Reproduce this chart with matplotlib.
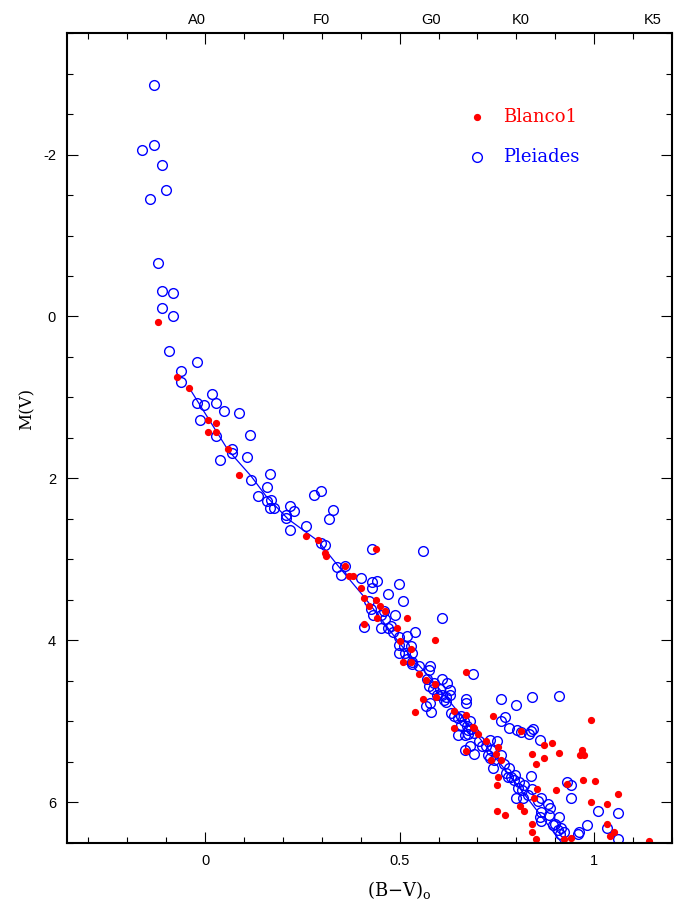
import matplotlib
matplotlib.use('Agg')
import matplotlib.pyplot as plt
from matplotlib.ticker import MultipleLocator

plt.rcParams['font.family'] = ['Liberation Sans', 'DejaVu Sans']
plt.rcParams['axes.unicode_minus'] = False
plt.rcParams['mathtext.fontset'] = 'dejavuserif'

# Pleiades: (B-V)o and M(V)
pleiades_bv = [-0.131, -0.131, -0.162, -0.111, -0.100, -0.141, -0.121, -0.111, -0.082, -0.111,
               -0.082, -0.093, -0.021, -0.062, -0.062, -0.021, -0.003, 0.018, 0.028, 0.049,
               0.087, -0.013, 0.028, 0.116, 0.069, 0.069, 0.039, 0.108, 0.118, 0.167,
               0.159, 0.136, 0.159, 0.170, 0.167, 0.177, 0.280, 0.298, 0.219, 0.229,
               0.208, 0.208, 0.219, 0.329, 0.319, 0.260, 0.298, 0.308, 0.429, 0.560,
               0.339, 0.360, 0.350, 0.401, 0.429, 0.442, 0.429, 0.499, 0.470, 0.422,
               0.509, 0.427, 0.460, 0.488, 0.432, 0.452, 0.463, 0.452, 0.609, 0.409,
               0.478, 0.470, 0.483, 0.540, 0.519, 0.499, 0.499, 0.512, 0.530, 0.499,
               0.514, 0.532, 0.519, 0.532, 0.550, 0.578, 0.532, 0.576, 0.571, 0.589,
               0.609, 0.622, 0.576, 0.586, 0.604, 0.630, 0.596, 0.609, 0.620, 0.630,
               0.614, 0.578, 0.568, 0.581, 0.620, 0.671, 0.671, 0.689, 0.761, 0.799,
               0.841, 0.910, 0.771, 0.761, 0.781, 0.802, 0.812, 0.833, 0.843, 0.861,
               0.632, 0.640, 0.650, 0.658, 0.666, 0.658, 0.674, 0.684, 0.692, 0.676,
               0.650, 0.704, 0.681, 0.668, 0.712, 0.733, 0.751, 0.722, 0.735, 0.761,
               0.728, 0.692, 0.681, 0.676, 0.668, 0.838, 0.733, 0.743, 0.740, 0.769,
               0.781, 0.774, 0.779, 0.787, 0.797, 0.794, 0.807, 0.805, 0.820, 0.838,
               0.931, 0.941, 0.941, 0.841, 0.815, 0.799, 0.817, 0.830, 0.864, 0.856,
               0.882, 0.887, 0.864, 0.861, 0.864, 0.884, 0.895, 0.900, 0.910, 0.915,
               0.907, 0.923, 0.913, 0.959, 0.961, 0.982, 1.010, 1.062, 1.033, 1.062]
pleiades_mv = [-2.86, -2.12, -2.05, -1.87, -1.56, -1.45, -0.66, -0.31, -0.29, -0.10,
               0.00, 0.42, 0.56, 0.67, 0.81, 1.07, 1.09, 0.96, 1.07, 1.17,
               1.19, 1.28, 1.47, 1.46, 1.63, 1.69, 1.77, 1.74, 2.02, 1.94,
               2.11, 2.22, 2.28, 2.27, 2.37, 2.36, 2.20, 2.16, 2.34, 2.40,
               2.45, 2.49, 2.63, 2.39, 2.50, 2.59, 2.80, 2.82, 2.87, 2.90,
               3.09, 3.08, 3.19, 3.23, 3.28, 3.26, 3.35, 3.30, 3.42, 3.51,
               3.51, 3.61, 3.63, 3.68, 3.68, 3.68, 3.73, 3.84, 3.72, 3.83,
               3.82, 3.85, 3.89, 3.89, 3.94, 3.96, 4.06, 4.07, 4.07, 4.16,
               4.16, 4.16, 4.23, 4.29, 4.31, 4.32, 4.26, 4.36, 4.48, 4.53,
               4.48, 4.52, 4.56, 4.60, 4.60, 4.61, 4.67, 4.67, 4.70, 4.67,
               4.74, 4.77, 4.81, 4.88, 4.76, 4.72, 4.77, 4.42, 4.72, 4.80,
               4.70, 4.69, 4.94, 4.99, 5.08, 5.10, 5.13, 5.15, 5.09, 5.23,
               4.90, 4.93, 4.96, 4.93, 4.99, 5.04, 5.06, 5.09, 5.14, 5.15,
               5.17, 5.24, 5.30, 5.35, 5.30, 5.23, 5.24, 5.30, 5.35, 5.41,
               5.41, 5.40, 4.99, 5.10, 5.17, 5.12, 5.45, 5.47, 5.58, 5.53,
               5.57, 5.63, 5.69, 5.68, 5.66, 5.72, 5.75, 5.82, 5.78, 5.67,
               5.75, 5.79, 5.94, 5.83, 5.85, 5.95, 5.94, 5.91, 5.94, 5.98,
               6.02, 6.07, 6.12, 6.18, 6.23, 6.16, 6.28, 6.26, 6.18, 6.31,
               6.34, 6.37, 6.39, 6.39, 6.36, 6.28, 6.10, 6.13, 6.31, 6.45]

# Blanco 1
blanco_bv = [-0.121, -0.072, -0.041, 0.008, 0.028, 0.008, 0.028, 0.059, 0.087, 0.260,
             0.290, 0.308, 0.311, 0.440, 0.360, 0.370, 0.380, 0.401, 0.409, 0.440,
             0.422, 0.450, 0.463, 0.442, 0.519, 0.409, 0.494, 0.501, 0.530, 0.591,
             0.509, 0.530, 0.550, 0.568, 0.591, 0.560, 0.594, 0.540, 0.671, 0.740,
             0.812, 0.871, 0.640, 0.671, 0.640, 0.692, 0.702, 0.671, 0.722, 0.753,
             0.748, 0.841, 0.689, 0.892, 0.992, 0.910, 0.969, 0.964, 0.974, 0.735,
             0.761, 0.851, 0.871, 0.753, 0.751, 0.972, 1.003, 0.931, 0.902, 0.853,
             0.846, 0.810, 0.751, 0.771, 0.820, 0.841, 0.841, 0.851, 0.923, 0.941,
             0.992, 1.033, 1.062, 1.033, 1.051, 1.041, 1.141]
blanco_mv = [0.07, 0.75, 0.88, 1.28, 1.31, 1.42, 1.42, 1.64, 1.96, 2.71,
             2.76, 2.92, 2.96, 2.87, 3.08, 3.20, 3.20, 3.35, 3.47, 3.50,
             3.58, 3.57, 3.63, 3.72, 3.72, 3.80, 3.84, 4.01, 4.11, 4.00,
             4.26, 4.27, 4.42, 4.49, 4.54, 4.72, 4.70, 4.88, 4.39, 4.93,
             5.12, 5.29, 4.87, 4.92, 5.08, 5.08, 5.15, 5.36, 5.24, 5.31,
             5.40, 5.40, 5.07, 5.26, 4.98, 5.39, 5.35, 5.42, 5.42, 5.48,
             5.48, 5.52, 5.45, 5.69, 5.78, 5.72, 5.73, 5.77, 5.84, 5.83,
             5.94, 6.04, 6.10, 6.15, 6.11, 6.27, 6.36, 6.45, 6.45, 6.44,
             5.99, 6.02, 5.89, 6.27, 6.36, 6.42, 6.47]

# Pleiades main sequence line
ms_bv = [-0.041, 0.059, 0.118, 0.157, 0.213, 0.290, 0.342, 0.410, 0.504, 0.580,
         0.684, 0.787, 0.877, 0.925]
ms_mv = [0.88, 1.65, 1.97, 2.22, 2.50, 2.77, 3.08, 3.47, 4.06, 4.47,
         5.08, 5.69, 6.25, 6.55]

spec_types = ['A0', 'F0', 'G0', 'K0', 'K5']
spec_bv = [-0.02, 0.30, 0.58, 0.81, 1.15]

fig = plt.figure(figsize=(6.78, 9.07), dpi=100)
ax = fig.add_axes([0.0988, 0.0706, 0.8924, 0.893])

ax.plot(ms_bv, ms_mv, color='blue', lw=0.9)
ax.plot(pleiades_bv, pleiades_mv, 'o', ls='none', mfc='none', mec='blue',
        mew=1.0, ms=7.0)
ax.plot(blanco_bv, blanco_mv, 'o', ls='none', color='red', mec='red', ms=4.2)

ax.set_xlim(-0.355, 1.2)
ax.set_ylim(6.5, -3.5)

ax.xaxis.set_major_locator(MultipleLocator(0.5))
ax.xaxis.set_minor_locator(MultipleLocator(0.1))
ax.yaxis.set_major_locator(MultipleLocator(2))
ax.yaxis.set_minor_locator(MultipleLocator(0.5))
ax.set_xticks([0, 0.5, 1])
ax.set_xticklabels(['0', '0.5', '1'])
ax.set_yticks([-2, 0, 2, 4, 6])
ax.set_yticklabels(['-2', '0', '2', '4', '6'])

ax.tick_params(which='both', direction='in', top=True, right=True, width=0.8)
ax.tick_params(which='major', length=8, labelsize=10.5, pad=8)
ax.tick_params(which='minor', length=4.5)
for s in ax.spines.values():
    s.set_linewidth(1.5)

# spectral types along the top
for name, bv in zip(spec_types, spec_bv):
    ax.text(bv, 1.016, name, transform=ax.get_xaxis_transform(),
            ha='center', va='center', fontsize=10.5)

serif = 'DejaVu Serif'
ax.text(0.549, -0.058, r'(B$-$V)$_\mathregular{o}$', transform=ax.transAxes,
        ha='center', va='center', fontsize=13, family=serif)
ax.text(-0.066, 0.536, 'M(V)', transform=ax.transAxes, rotation=90,
        ha='center', va='center', fontsize=12, family=serif)

# legend keys
ax.plot([0.678], [0.896], 'o', color='red', ms=4.2, transform=ax.transAxes, clip_on=False)
ax.plot([0.678], [0.847], 'o', mfc='none', mec='blue', mew=1.0, ms=7.0,
        transform=ax.transAxes, clip_on=False)
ax.text(0.721, 0.896, 'Blanco1', color='red', transform=ax.transAxes,
        ha='left', va='center', fontsize=13, family=serif)
ax.text(0.721, 0.847, 'Pleiades', color='blue', transform=ax.transAxes,
        ha='left', va='center', fontsize=13, family=serif)

fig.savefig('out.png', dpi=100)
